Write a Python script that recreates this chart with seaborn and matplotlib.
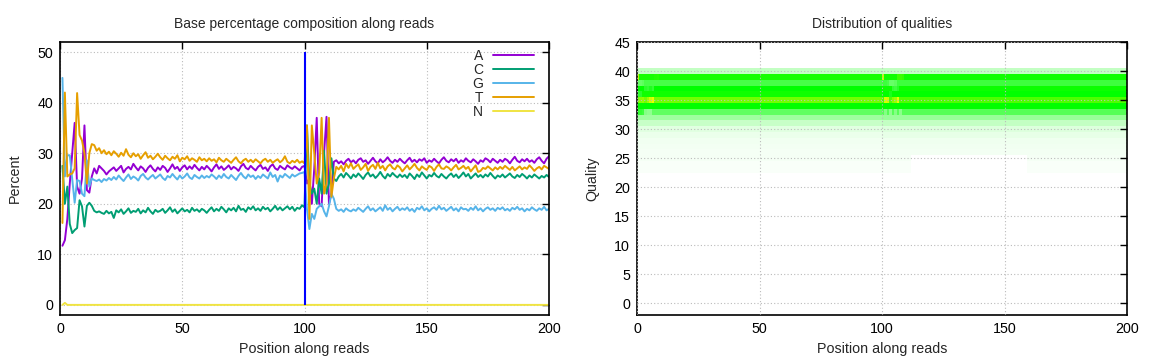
import numpy as np
import matplotlib
matplotlib.use("Agg")
import matplotlib.pyplot as plt
from matplotlib.colors import LinearSegmentedColormap
import seaborn as sns

# ---- base composition along reads (percent), cycles 1..200 ----
positions = np.arange(1, 201)

pct_a = [
    11.7, 12.8, 17.0, 24.0, 30.0, 36.0, 23.4, 22.0, 25.0, 35.5, 22.7, 22.2, 25.4, 27.0, 26.0, 27.5, 27.0, 26.5, 25.8, 26.4,
    26.8, 27.2, 26.5, 27.0, 27.5, 26.2, 26.9, 27.3, 26.8, 27.9, 27.2, 26.6, 27.4, 27.0, 26.3, 27.1, 27.6, 26.9, 26.4, 27.2,
    26.7, 27.5, 27.1, 26.3, 27.0, 27.8, 26.9, 27.3, 26.5, 27.2, 27.6, 26.8, 27.4, 26.9, 27.7, 27.1, 26.6, 27.3, 26.8, 27.5,
    27.0, 26.4, 27.2, 27.8, 26.9, 27.4, 26.7, 27.1, 27.6, 26.8, 27.3, 27.0, 26.5, 27.4, 27.9, 27.1, 26.8, 27.5, 27.0, 26.6,
    27.3, 27.7, 26.9, 27.2, 26.5, 27.4, 27.8, 27.0, 26.7, 27.5, 27.1, 26.8, 27.6, 27.2, 26.9, 27.4, 27.0, 26.6, 27.3, 27.5,
    24.0, 25.0, 20.0, 27.0, 37.0, 20.0, 19.5, 30.0, 37.2, 20.0, 22.0, 28.3, 28.6, 28.0, 28.4, 27.8, 28.5, 28.9, 28.2, 28.6,
    28.0, 28.7, 29.0, 28.3, 28.6, 27.9, 28.5, 29.1, 28.4, 28.0, 28.8, 28.2, 28.6, 29.2, 28.5, 28.1, 28.7, 28.3, 28.9, 28.4,
    28.0, 28.6, 29.1, 28.3, 28.7, 28.2, 28.8, 28.5, 29.0, 28.1, 28.6, 28.3, 28.9, 28.4, 28.0, 28.7, 29.2, 28.5, 28.2, 28.8,
    28.4, 28.9, 28.1, 28.6, 28.3, 29.0, 28.5, 28.2, 28.8, 28.4, 27.9, 28.6, 28.3, 29.0, 28.7, 28.2, 28.9, 28.5, 28.1, 28.7,
    28.3, 28.9, 28.6, 28.0, 28.7, 29.3, 28.5, 28.2, 28.8, 28.4, 28.9, 28.3, 28.6, 28.1, 28.8, 29.2, 28.5, 28.0, 28.9, 29.4,
]
pct_c = [
    27.5, 20.0, 23.4, 16.0, 14.2, 14.8, 15.2, 20.7, 19.5, 15.5, 19.6, 20.2, 19.6, 18.6, 18.3, 18.5, 18.2, 18.0, 18.6, 18.1,
    18.4, 17.2, 18.7, 18.3, 18.9, 18.0, 18.5, 19.1, 18.2, 18.6, 18.4, 19.0, 18.1, 18.7, 18.3, 19.2, 18.5, 18.0, 18.8, 18.4,
    18.6, 19.0, 18.2, 18.7, 19.3, 18.4, 18.9, 18.1, 18.6, 19.1, 18.5, 18.8, 18.3, 19.2, 18.6, 18.9, 18.4, 19.0, 18.7, 18.2,
    18.8, 19.3, 18.5, 19.0, 18.6, 19.4, 18.9, 18.3, 19.1, 18.7, 19.2, 18.5, 19.6, 18.8, 19.0, 18.4, 19.3, 18.9, 19.5, 18.7,
    19.1, 18.6, 19.4, 18.9, 19.2, 18.5, 19.0, 19.6, 18.8, 19.3, 18.7, 19.1, 19.5, 18.9, 19.4, 18.6, 19.2, 19.0, 19.7, 19.3,
    35.5, 24.0, 22.0, 23.0, 20.0, 25.0, 22.0, 30.5, 22.0, 24.0, 29.0, 25.0, 24.5, 25.4, 25.9, 25.2, 26.1, 25.6, 25.0, 25.8,
    25.3, 26.0, 25.5, 24.9, 25.7, 26.2, 25.4, 25.8, 25.1, 25.6, 26.3, 25.5, 25.0, 25.9, 25.4, 26.1, 25.6, 25.2, 25.8, 25.3,
    25.7, 25.1, 26.0, 25.5, 24.9, 25.8, 25.3, 26.2, 25.6, 25.0, 25.7, 25.4, 26.1, 25.5, 25.2, 25.9, 25.4, 25.0, 25.6, 26.0,
    25.3, 25.8, 25.1, 25.6, 26.2, 25.4, 25.9, 25.0, 25.5, 26.0, 25.3, 25.7, 25.2, 25.8, 25.4, 26.1, 25.5, 25.0, 25.6, 25.3,
    25.8, 25.2, 25.6, 26.0, 25.4, 25.1, 25.7, 25.3, 25.9, 25.5, 25.0, 25.6, 25.2, 25.8, 25.4, 25.0, 25.5, 25.2, 25.7, 25.3,
]
pct_g = [
    44.9, 25.4, 29.6, 29.6, 25.0, 20.2, 24.7, 24.5, 22.0, 21.5, 28.6, 23.4, 25.0, 24.7, 24.5, 24.8, 24.3, 24.9, 24.6, 25.1,
    24.7, 25.3, 24.8, 25.6, 25.0, 24.5, 25.2, 25.8, 24.9, 25.4, 25.1, 24.6, 25.5, 25.9, 25.2, 24.8, 25.3, 25.7, 25.0, 25.4,
    25.8, 25.1, 24.7, 25.5, 25.2, 25.9, 25.3, 24.8, 25.6, 25.0, 25.4, 26.0, 25.2, 24.9, 25.7, 25.3, 25.0, 25.6, 25.1, 25.5,
    25.2, 25.8, 25.4, 24.9, 25.6, 25.1, 25.9, 25.3, 25.0, 25.7, 25.2, 24.7, 25.5, 26.1, 25.4, 25.0, 25.8, 25.3, 25.6, 24.9,
    25.5, 25.1, 25.8, 25.4, 25.0, 26.2, 25.3, 25.7, 24.4, 25.6, 25.2, 25.9, 25.5, 25.1, 25.8, 25.4, 25.7, 26.0, 26.1, 26.3,
    19.0, 15.0, 18.0, 17.0, 19.0, 19.5, 20.0, 18.5, 17.5, 19.5, 22.0, 21.0, 19.0, 18.6, 18.9, 18.4, 19.1, 18.7, 18.5, 18.9,
    18.6, 19.2, 18.8, 18.4, 19.0, 19.5, 18.7, 19.1, 18.5, 18.9, 19.3, 18.6, 19.7, 18.8, 19.2, 18.5, 19.0, 19.4, 18.7, 19.1,
    18.8, 19.3, 18.6, 19.0, 18.4, 19.2, 18.9, 19.5, 18.7, 19.1, 18.5, 19.0, 19.3, 18.8, 19.6, 18.9, 19.2, 18.6, 19.0, 19.4,
    18.7, 19.1, 18.5, 19.3, 18.9, 19.0, 18.6, 19.2, 18.8, 19.5, 18.7, 19.1, 18.5, 19.0, 19.3, 18.8, 19.1, 18.6, 19.2, 18.9,
    19.3, 18.7, 19.0, 18.6, 19.2, 18.9, 19.4, 18.8, 19.1, 18.5, 19.0, 18.7, 19.3, 18.9, 18.6, 19.1, 18.8, 19.4, 18.7, 19.0,
]
pct_t = [
    16.2, 42.0, 25.4, 25.8, 26.0, 27.0, 41.9, 33.6, 32.5, 30.0, 24.0, 30.0, 31.8, 31.6, 30.5, 31.0, 30.0, 30.6, 29.8, 30.3,
    29.6, 30.4, 29.9, 29.3, 30.1, 29.5, 30.8, 29.7, 29.2, 30.0, 29.4, 29.8, 28.9, 29.6, 30.2, 29.1, 29.5, 28.8, 29.3, 29.9,
    29.2, 28.7, 29.5, 29.0, 28.6, 29.3, 28.9, 29.6, 28.4, 29.1, 28.8, 29.4, 28.5, 29.0, 28.7, 28.3, 29.2, 28.6, 28.9, 28.4,
    29.0, 28.5, 28.8, 28.2, 29.1, 28.6, 28.3, 28.9, 28.5, 28.1, 28.7, 29.2, 28.4, 28.0, 28.6, 28.9, 28.3, 28.7, 28.2, 28.8,
    28.4, 28.0, 28.6, 28.9, 28.3, 28.7, 28.1, 28.5, 28.8, 28.2, 28.6, 29.4, 28.3, 28.0, 28.5, 28.2, 28.7, 28.1, 28.4, 28.0,
    35.5, 17.0, 35.5, 30.0, 24.0, 26.0, 37.0, 22.0, 24.0, 37.0, 21.4, 25.0, 27.3, 26.8, 27.5, 26.4, 27.9, 27.1, 28.0, 26.9,
    27.4, 27.8, 26.7, 27.2, 27.9, 26.5, 27.3, 27.7, 26.9, 28.1, 27.0, 27.5, 26.6, 27.4, 27.8, 27.1, 26.8, 27.6, 27.2, 26.4,
    27.0, 27.6, 26.8, 27.3, 27.9, 27.1, 26.6, 27.4, 27.0, 26.7, 27.5, 27.2, 26.5, 27.3, 27.8, 27.0, 26.9, 27.4, 27.1, 26.6,
    27.2, 27.7, 26.8, 27.1, 27.5, 26.9, 27.3, 26.4, 27.0, 27.6, 26.3, 26.5, 27.1, 26.9, 27.4, 27.0, 26.6, 27.2, 26.8, 27.3,
    26.9, 27.5, 27.1, 26.7, 27.3, 26.6, 27.0, 27.4, 26.8, 27.2, 26.9, 27.6, 27.1, 26.5, 27.0, 27.3, 26.8, 27.5, 27.2, 26.9,
]
pct_n = [0.0, 0.4] + [0.0] * 198

bases = ["A", "C", "G", "T", "N"]
base_colors = ["#9400d3", "#009e73", "#56b4e9", "#e69f00", "#f0e442"]
read_boundary = 100   # last cycle of read 1

# ---- quality distribution (relative density, 0-100) ----
qualities = list(range(23, 41))
# q23 .. q40, typical column of read 1 and read 2
profile_read1 = [1.2, 1.5, 2.0, 2.0, 2.5, 3.0, 4.0, 6.0, 11, 19, 31, 50, 72, 53, 50, 36, 54, 12]
profile_read2 = [1.2, 1.5, 2.0, 2.5, 3.0, 3.5, 5.0, 7.0, 12, 20, 33, 50, 65, 50, 52, 38, 53, 12]
tail_gap_cycles = (113, 160)
tail_gap_quals = [23, 24, 25]
# (cycle, quality, value) cells that differ near the read starts
start_cells = [
    (1, 39, 86), (1, 38, 30), (2, 38, 30), (3, 38, 32), (1, 36, 40), (2, 36, 42),
    (1, 33, 42), (2, 33, 40), (3, 33, 38), (4, 33, 24), (5, 33, 22), (6, 33, 22),
    (2, 35, 76), (3, 35, 78), (5, 35, 80), (6, 35, 90), (7, 35, 95), (4, 37, 42),
    (5, 37, 40), (6, 37, 44), (7, 37, 40), (8, 39, 56), (9, 39, 57),
    (101, 39, 88), (102, 38, 38), (103, 38, 36), (104, 38, 30), (105, 38, 30),
    (106, 38, 32), (105, 37, 40), (106, 37, 38), (107, 37, 42), (104, 36, 45),
    (102, 35, 92), (103, 35, 90), (105, 35, 76), (106, 35, 80), (107, 35, 95),
    (107, 39, 62), (108, 39, 62), (109, 39, 60), (102, 33, 24), (104, 33, 22),
    (106, 33, 24), (108, 33, 23),
]
quality_ticks = list(range(0, 46, 5))

# build the matrix from the profiles (column k = cycle k+1)
heat = np.zeros((len(qualities), len(positions)))
for k, cyc in enumerate(positions):
    heat[:, k] = profile_read1 if cyc <= read_boundary else profile_read2
for q in tail_gap_quals:
    heat[qualities.index(q), tail_gap_cycles[0] - 1:tail_gap_cycles[1] - 1] = 0
for cyc, q, v in start_cells:
    heat[qualities.index(q), cyc - 1] = v

# ---- style ----
sns.set_style("white")
plt.rcParams["font.family"] = ["Liberation Sans", "DejaVu Sans"]
plt.rcParams["font.size"] = 10

fig = plt.figure(figsize=(11.52, 3.6), dpi=100)
ax1 = fig.add_axes([60 / 1152, 45 / 360, 489 / 1152, 273 / 360])
ax2 = fig.add_axes([637 / 1152, 45 / 360, 490 / 1152, 273 / 360])

grid_kw = dict(color="#bbbbbb", linestyle=(0, (1, 2)), linewidth=0.8)

# left panel: base composition
series = [pct_a, pct_c, pct_g, pct_t, pct_n]
for name, vals, col in zip(bases, series, base_colors):
    sns.lineplot(x=positions, y=vals, color=col, label=name, linewidth=1.4, ax=ax1)
ax1.vlines(read_boundary, 0, 50, color="#0000ff", linewidth=1.5, zorder=3)

ax1.set_xlim(0, 200)
ax1.set_ylim(-2, 52)
ax1.set_xticks(range(0, 201, 50))
ax1.set_yticks(range(0, 51, 10))
ax1.set_title("Base percentage composition along reads", fontsize=10, pad=10)
ax1.set_xlabel("Position along reads", fontsize=10.3, labelpad=4)
ax1.set_ylabel("Percent", fontsize=10.3, labelpad=11)
ax1.grid(True, **grid_kw)
ax1.legend(loc="upper right", bbox_to_anchor=(0.98, 0.996), frameon=False,
           markerfirst=False, handlelength=2.9, handletextpad=0.75,
           labelspacing=0.0, fontsize=10, borderaxespad=0)

# right panel: quality heat map
cmap = LinearSegmentedColormap.from_list("wgy", ["white", "#00ff00", "yellow"])
x_edges = np.arange(len(positions) + 1)
y_edges = np.array(qualities + [qualities[-1] + 1]) - 0.5
ax2.pcolormesh(x_edges, y_edges, heat, cmap=cmap, vmin=0, vmax=100, shading="flat")
ax2.set_xlim(0, 200)
ax2.set_ylim(-2, 45)
ax2.set_xticks(range(0, 201, 50))
ax2.set_yticks(quality_ticks)
ax2.set_axisbelow(False)
ax2.grid(True, **grid_kw)
ax2.set_title("Distribution of qualities", fontsize=10, pad=10)
ax2.set_xlabel("Position along reads", fontsize=10.3, labelpad=4)
ax2.set_ylabel("Quality", fontsize=10.3, labelpad=11)

for ax in (ax1, ax2):
    ax.tick_params(direction="in", length=5, width=1, top=True, right=True,
                   labelsize=10.3, colors="black", pad=5)
    for sp in ax.spines.values():
        sp.set_color("black")
        sp.set_linewidth(1.2)

fig.savefig("out.png", dpi=100)
